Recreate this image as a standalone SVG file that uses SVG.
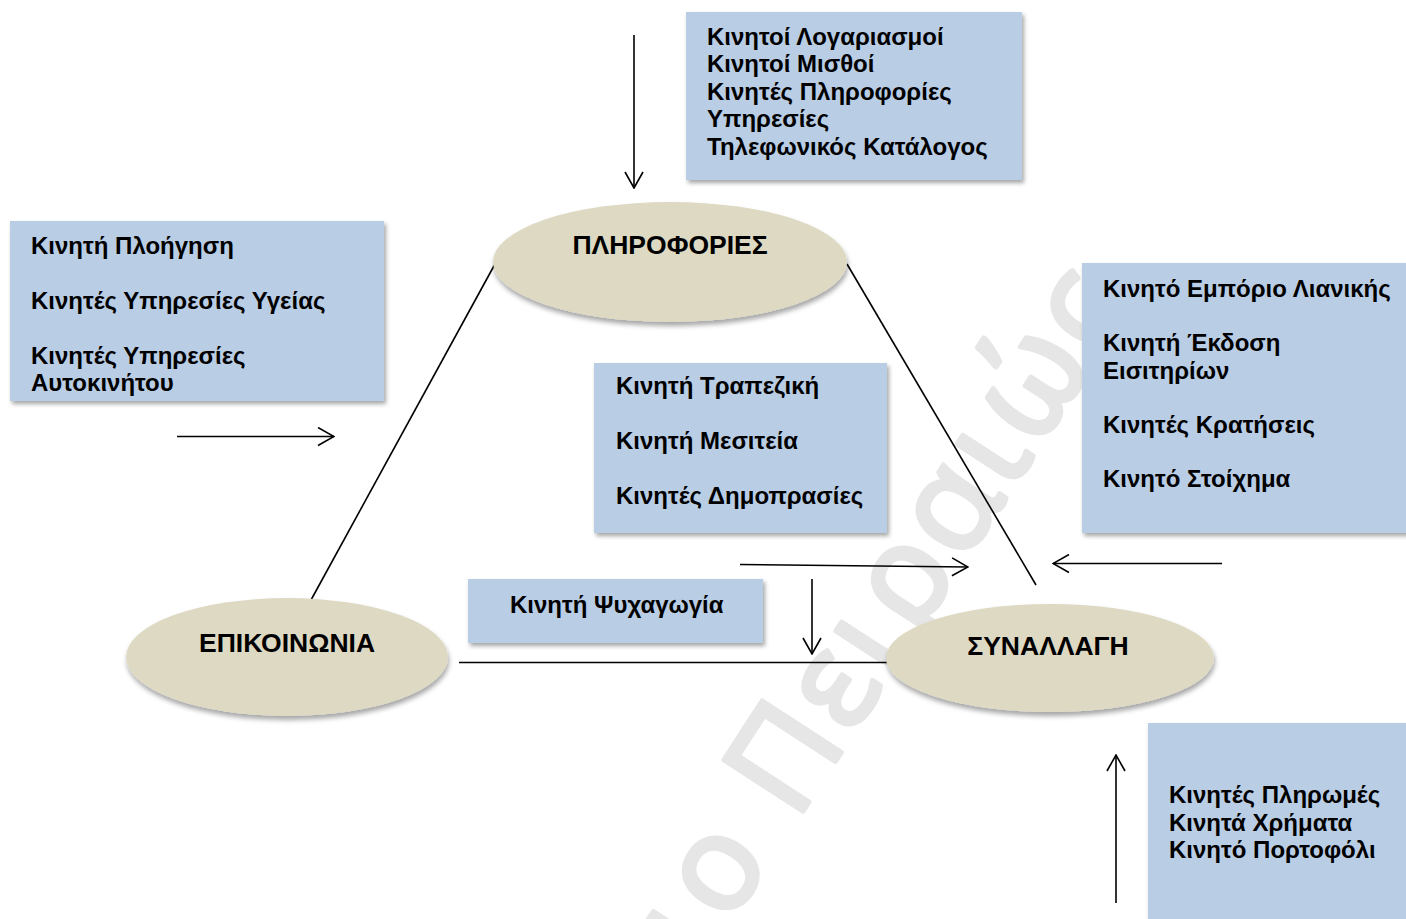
<svg xmlns="http://www.w3.org/2000/svg" width="1406" height="919" viewBox="0 0 1406 919">
  <defs>
    <filter id="boxShadow" x="-10%" y="-10%" width="125%" height="130%">
      <feDropShadow dx="2" dy="3" stdDeviation="2" flood-color="#000" flood-opacity="0.35"/>
    </filter>
    <filter id="ovalShadow" x="-10%" y="-10%" width="125%" height="140%">
      <feDropShadow dx="1" dy="4" stdDeviation="2.5" flood-color="#000" flood-opacity="0.35"/>
    </filter>
    <marker id="open" viewBox="0 0 18 20" refX="17" refY="10" markerWidth="18" markerHeight="20" markerUnits="userSpaceOnUse" orient="auto">
      <path d="M1,1 L17,10 L1,19" fill="none" stroke="#000" stroke-width="1.6"/>
    </marker>
  </defs>
  <style>
    .box { fill: #b9cde5; filter: url(#boxShadow); }
    .oval { fill: #ddd9c3; filter: url(#ovalShadow); }
    .item { font-family: "Liberation Sans", Arial, sans-serif; font-weight: bold; font-size: 24px; fill: #000; }
    .title { font-family: "Liberation Sans", Arial, sans-serif; font-weight: bold; font-size: 26.5px; fill: #000; text-anchor: middle; }
    .wm { font-family: "Open Sans", "Noto Sans", sans-serif; font-size: 132px; letter-spacing: 6px; fill: #e6e6e6; stroke: #e6e6e6; stroke-width: 5; stroke-linejoin: round; }
    .edge { stroke: #000; stroke-width: 1.6; fill: none; }
    .arrow { stroke: #000; stroke-width: 1.6; fill: none; marker-end: url(#open); }
  </style>

  <rect width="1406" height="919" fill="#fff"/>

  <!-- background watermark -->
  <text class="wm" transform="translate(796,822) rotate(-57)"><tspan x="-38" text-anchor="end">Πανεπιστήμιο</tspan><tspan x="0">Πειραιώς</tspan></text>

  <!-- connectors -->
  <g id="connectors">
    <line class="edge" x1="495" y1="264" x2="311" y2="600"/>
    <line class="edge" x1="847" y1="264" x2="1036" y2="585"/>
    <line class="edge" x1="459" y1="662.5" x2="888" y2="662.5" stroke-width="2.4"/>
    <line class="arrow" x1="634" y1="35" x2="634" y2="188"/>
    <line class="arrow" x1="177" y1="436.5" x2="334" y2="436.5"/>
    <line class="arrow" x1="740" y1="564.5" x2="968" y2="567"/>
    <line class="arrow" x1="812" y1="579" x2="812" y2="654"/>
    <line class="arrow" x1="1222" y1="563.5" x2="1053" y2="563.5"/>
    <line class="arrow" x1="1116" y1="903" x2="1116" y2="755"/>
  </g>

  <!-- information services -->
  <g id="box-info">
    <rect class="box" x="686" y="12" width="336" height="168"/>
    <text class="item" x="707" y="44.5">Κινητοί Λογαριασμοί</text>
    <text class="item" x="707" y="72">Κινητοί Μισθοί</text>
    <text class="item" x="707" y="99.5">Κινητές Πληροφορίες</text>
    <text class="item" x="707" y="127">Υπηρεσίες</text>
    <text class="item" x="707" y="154.5">Τηλεφωνικός Κατάλογος</text>
  </g>

  <!-- communication services -->
  <g id="box-comm">
    <rect class="box" x="10" y="221" width="374" height="180"/>
    <text class="item" x="31" y="254">Κινητή Πλοήγηση</text>
    <text class="item" x="31" y="309">Κινητές Υπηρεσίες Υγείας</text>
    <text class="item" x="31" y="364">Κινητές Υπηρεσίες</text>
    <text class="item" x="31" y="391">Αυτοκινήτου</text>
  </g>

  <!-- financial services -->
  <g id="box-finance">
    <rect class="box" x="594" y="363" width="293" height="170"/>
    <text class="item" x="616" y="394">Κινητή Τραπεζική</text>
    <text class="item" x="616" y="449">Κινητή Μεσιτεία</text>
    <text class="item" x="616" y="504">Κινητές Δημοπρασίες</text>
  </g>

  <!-- commerce services -->
  <g id="box-commerce">
    <rect class="box" x="1082" y="263" width="330" height="270"/>
    <text class="item" x="1103" y="297">Κινητό Εμπόριο Λιανικής</text>
    <text class="item" x="1103" y="351">Κινητή Έκδοση</text>
    <text class="item" x="1103" y="378.5">Εισιτηρίων</text>
    <text class="item" x="1103" y="433">Κινητές Κρατήσεις</text>
    <text class="item" x="1103" y="487">Κινητό Στοίχημα</text>
  </g>

  <!-- entertainment -->
  <g id="box-entertainment">
    <rect class="box" x="468" y="579" width="295" height="64"/>
    <text class="item" x="510" y="613">Κινητή Ψυχαγωγία</text>
  </g>

  <!-- payments -->
  <g id="box-payments">
    <rect class="box" x="1148" y="723" width="264" height="210"/>
    <text class="item" x="1169" y="803">Κινητές Πληρωμές</text>
    <text class="item" x="1169" y="830.5">Κινητά Χρήματα</text>
    <text class="item" x="1169" y="858">Κινητό Πορτοφόλι</text>
  </g>

  <!-- core categories -->
  <g id="node-info">
    <ellipse class="oval" cx="670" cy="262" rx="177" ry="60"/>
    <text class="title" x="670" y="254">ΠΛΗΡΟΦΟΡΙΕΣ</text>
  </g>
  <g id="node-comm">
    <ellipse class="oval" cx="287" cy="657" rx="161" ry="59"/>
    <text class="title" x="287" y="652">ΕΠΙΚΟΙΝΩΝΙΑ</text>
  </g>
  <g id="node-transaction">
    <ellipse class="oval" cx="1050" cy="658" rx="164" ry="54"/>
    <text class="title" x="1048" y="655">ΣΥΝΑΛΛΑΓΗ</text>
  </g>
</svg>
